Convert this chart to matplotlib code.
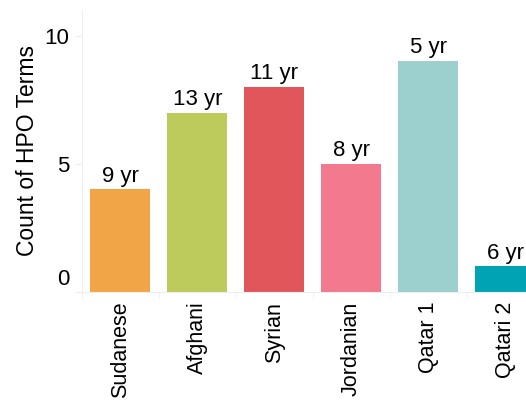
import matplotlib
matplotlib.use("Agg")
import matplotlib.pyplot as plt
import matplotlib.transforms as mtransforms
import numpy as np

plt.rcParams['font.family'] = ['Liberation Sans', 'DejaVu Sans']

# data
groups = ["Sudanese", "Afghani", "Syrian", "Jordanian", "Qatar 1", "Qatari 2"]
hpo_counts = [4, 7, 8, 5, 9, 1]
age_labels = ["9 yr", "13 yr", "11 yr", "8 yr", "5 yr", "6 yr"]
bar_colors = ["#F2A546", "#BCCB5C", "#E1565B", "#F2798E", "#9BD0CF", "#00A3B4"]

fig = plt.figure(figsize=(5.26, 4.04), dpi=100)
ax = fig.add_axes([82 / 526, 1 - 292 / 404, 1 - 82 / 526, (292 - 10) / 404])

x = np.arange(len(groups))
bars = ax.bar(x, hpo_counts, width=0.78, color=bar_colors)

# age labels above bars
for rect, lab in zip(bars, age_labels):
    ax.annotate(lab, (rect.get_x() + rect.get_width() / 2, rect.get_height()),
                xytext=(0, 2), textcoords="offset points",
                ha="center", va="bottom", fontsize=16)

ax.set_xlim(-0.49, (526 - 120) / 77)
ax.set_ylim(0, 11)

ax.set_yticks([0, 5, 10])
ax.set_xticks(x)
ax.set_xticklabels(groups, rotation=90, fontsize=15.5)
ax.set_xticks(np.arange(len(groups)) - 0.5, minor=True)
ax.tick_params(axis="x", which="major", length=0, pad=7)
ax.tick_params(axis="x", which="minor", length=4, color="#EEEEEE")
ax.tick_params(axis="y", labelsize=16, length=4, color="#EEEEEE", pad=5)
ax.set_ylabel("Count of HPO Terms", fontsize=16.5, labelpad=4)

# the zero label sits a little above its tick in the reference
zero_lab = ax.get_yticklabels()[0]
zero_lab.set_transform(zero_lab.get_transform() +
                       mtransforms.ScaledTranslation(0, 15 / 100, fig.dpi_scale_trans))

for side in ["top", "right"]:
    ax.spines[side].set_visible(False)
for side in ["left", "bottom"]:
    ax.spines[side].set_color("#EEEEEE")

fig.savefig("out.png", dpi=100)
